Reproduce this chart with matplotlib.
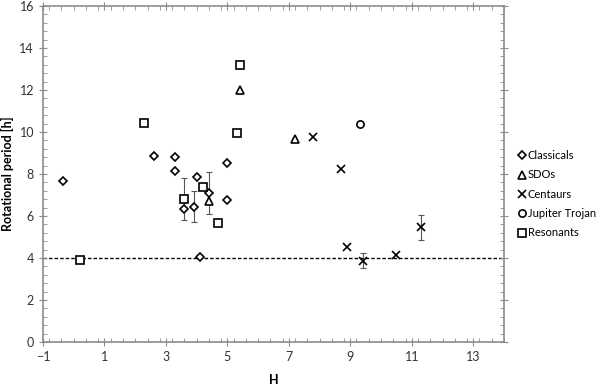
import numpy as np
import matplotlib
matplotlib.use("Agg")
import matplotlib.pyplot as plt
from matplotlib.ticker import MultipleLocator

plt.rcParams['font.family'] = ['Lato', 'DejaVu Sans']

# Classicals
cl_h = [-0.35, 2.6, 3.3, 3.3, 4.0, 3.6, 3.9, 4.4, 5.0, 5.0, 4.1]
cl_p = [7.65, 8.85, 8.8, 8.15, 7.88, 6.35, 6.45, 7.1, 8.5, 6.75, 4.05]
cl_err = [0, 0, 0, 0, 0, 0, 0.75, 1.0, 0, 0, 0]

# SDOs
sdo_h = [5.4, 7.2, 4.4]
sdo_p = [12.0, 9.68, 6.7]

# Centaurs
cen_h = [7.8, 8.7, 8.9, 9.4, 10.5, 11.3]
cen_p = [9.75, 8.22, 4.5, 3.87, 4.15, 5.46]
cen_err = [0, 0, 0, 0.35, 0, 0.6]

# Jupiter Trojan
jt_h = [9.3]
jt_p = [10.4]

# Resonants
res_h = [5.4, 5.3, 2.3, 4.2, 4.7, 3.6, 0.2]
res_p = [13.2, 9.95, 10.45, 7.4, 5.67, 6.8, 3.9]
res_err = [0, 0, 0, 0, 0, 1.0, 0]

fig = plt.figure(figsize=(6, 3.87), dpi=100)
ax = fig.add_axes([0.0717, 0.1163, 0.7683, 0.8682])

ebkw = dict(fmt='none', ecolor='#555555', elinewidth=0.8, capsize=2, capthick=0.8, zorder=2)

def draw_err(h, p, err):
    h = np.array(h); p = np.array(p); err = np.array(err)
    m = err > 0
    if m.any():
        ax.errorbar(h[m], p[m], yerr=err[m], **ebkw)

draw_err(cl_h, cl_p, cl_err)
draw_err(cen_h, cen_p, cen_err)
draw_err(res_h, res_p, res_err)

ax.axhline(4, color='black', linestyle=(0, (2.5, 1.5)), linewidth=1.0, zorder=1)

mk = dict(linestyle='none', markerfacecolor='white', markeredgecolor='black', markeredgewidth=1.2, zorder=3)
ax.plot(cl_h, cl_p, marker='D', markersize=4.2, label='Classicals', **mk)
ax.plot(sdo_h, sdo_p, marker='^', markersize=5.2, label='SDOs', **mk)
ax.plot(cen_h, cen_p, marker='x', markersize=5.5, color='black', linestyle='none',
        markeredgewidth=1.2, label='Centaurs', zorder=3)
ax.plot(jt_h, jt_p, marker='o', markersize=5.2, label='Jupiter Trojan', **mk)
ax.plot(res_h, res_p, marker='s', markersize=5.5, label='Resonants', **mk)

ax.set_xlim(-1, 14)
ax.set_ylim(0, 16)
ax.xaxis.set_major_locator(MultipleLocator(2))
ax.xaxis.set_minor_locator(MultipleLocator(0.4))
ax.yaxis.set_major_locator(MultipleLocator(2))
ax.yaxis.set_minor_locator(MultipleLocator(0.4))
ax.set_xticks(np.arange(-1, 14, 2))

for s in ax.spines.values():
    s.set_color('#8c8c8c')
    s.set_linewidth(1.2)
ax.tick_params(which='major', direction='inout', length=6, color='#8c8c8c',
               labelsize=9, labelcolor='#333333', top=True, right=True)
ax.tick_params(which='minor', direction='in', length=3, color='#8c8c8c', top=True, right=True)

ax.set_xlabel('H', fontsize=9, fontweight='bold', labelpad=8)
ax.set_ylabel('Rotational period [h]', fontsize=9, fontweight='bold', labelpad=4)

fig.legend(loc='upper left', bbox_to_anchor=(0.862, 0.612), frameon=False,
           fontsize=8, handletextpad=0.15, handlelength=0.8, labelspacing=0.75,
           borderaxespad=0, borderpad=0)

fig.savefig('out.png', dpi=100)
